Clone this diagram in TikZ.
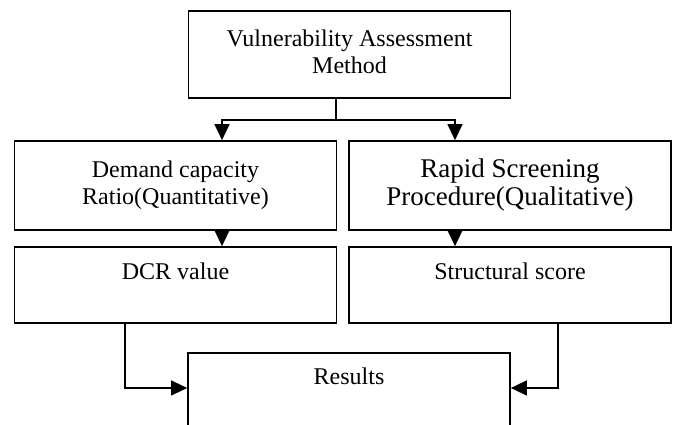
\documentclass[tikz,border=0pt]{standalone}
\usepackage{fontspec}
\setmainfont{Liberation Serif}
\usepackage{tikz}
\usetikzlibrary{positioning, arrows.meta}

\begin{document}
\begin{tikzpicture}[
    x=1pt, y=1pt,
    block/.style={rectangle, draw=black, line width=1.7pt, inner sep=0pt,
                  minimum width=322pt, align=center,
                  font=\fontsize{24}{27}\selectfont},
    topblock/.style={block, text height=33pt, text depth=43pt},
    arrow/.style={-{Triangle[length=16pt, width=15pt]}, line width=1.3pt}
]

    \useasboundingbox (0,0) rectangle (675,425);
    \clip (0,0) rectangle (675,425);

    % Method
    \node[block, minimum height=87pt, text depth=6pt] (method) at (349.5, 370.5)
        {Vulnerability Assessment\\Method};

    % Approaches
    \node[block, minimum height=89pt] (dcratio) at (175.5, 239.5)
        {Demand capacity\\Ratio(Quantitative)};
    \node[block, minimum height=89pt, font=\fontsize{27}{28}\selectfont] (rsp) at (510, 239.5)
        {Rapid Screening\\Procedure(Qualitative)};

    % Outputs
    \node[topblock] (dcr) at (175.5, 140) {DCR value};
    \node[topblock] (score) at (510, 140) {Structural score};

    % Results
    \node[block, text height=32pt, text depth=65pt] (results) at (349, 23.5) {Results};

    % Split
    \coordinate (split) at (336, 305);
    \draw[line width=1.3pt] (method.south -| split) -- (split);
    \draw[arrow] (split) -| ([xshift=46.5pt]dcratio.north);
    \draw[arrow] (split) -| ([xshift=-55pt]rsp.north);

    % Arrows
    \draw[arrow] ([xshift=46.5pt]dcratio.south) -- ([xshift=46.5pt]dcr.north);
    \draw[arrow] ([xshift=-55pt]rsp.south) -- ([xshift=-55pt]score.north);

    % To results
    \draw[arrow] ([xshift=-50.5pt]dcr.south) |- ([yshift=13.5pt]results.west);
    \draw[arrow] ([xshift=48pt]score.south) |- ([yshift=13.5pt]results.east);

\end{tikzpicture}
\end{document}
